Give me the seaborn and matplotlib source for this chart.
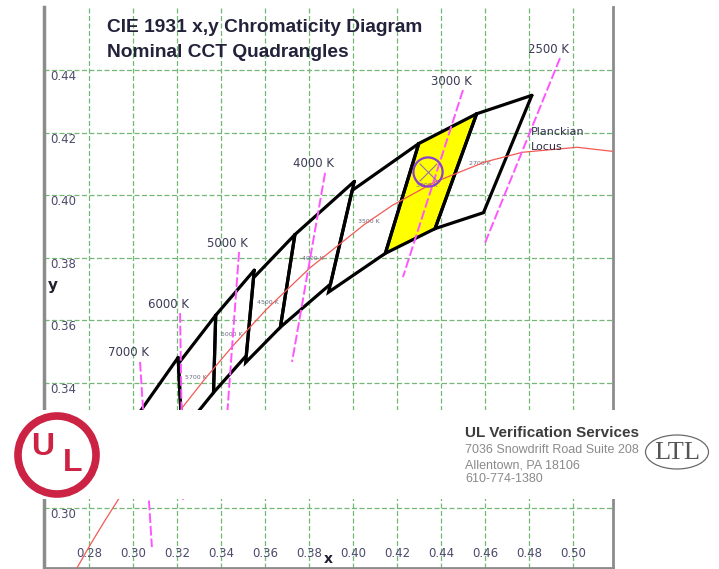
import numpy as np
import pandas as pd
import matplotlib
matplotlib.use('Agg')
import matplotlib.pyplot as plt
from matplotlib.patches import Circle, Ellipse
import seaborn as sns

# nominal CCT quadrangles (ANSI C78.377), corners: TR, TL, BL, BR
quad_names = ['2700 K', '3000 K', '3500 K', '4000 K', '4500 K', '5000 K', '5700 K', '6500 K']
quad_x = [[0.4813, 0.4562, 0.4373, 0.4593],
          [0.4562, 0.4299, 0.4147, 0.4373],
          [0.4299, 0.3996, 0.3889, 0.4147],
          [0.4006, 0.3736, 0.3670, 0.3898],
          [0.3736, 0.3548, 0.3512, 0.3670],
          [0.3551, 0.3376, 0.3366, 0.3515],
          [0.3376, 0.3207, 0.3222, 0.3366],
          [0.3205, 0.3028, 0.3068, 0.3221]]
quad_y = [[0.4319, 0.4260, 0.3893, 0.3944],
          [0.4260, 0.4165, 0.3814, 0.3893],
          [0.4165, 0.4015, 0.3690, 0.3814],
          [0.4044, 0.3874, 0.3578, 0.3716],
          [0.3874, 0.3736, 0.3465, 0.3578],
          [0.3760, 0.3616, 0.3369, 0.3487],
          [0.3616, 0.3462, 0.3243, 0.3369],
          [0.3481, 0.3304, 0.3113, 0.3261]]
centre_x = [0.4578, 0.4338, 0.4073, 0.3818, 0.3611, 0.3447, 0.3287, 0.3123]
centre_y = [0.4101, 0.4030, 0.3917, 0.3797, 0.3658, 0.3553, 0.3417, 0.3282]
highlight = '3000 K'

# planckian locus
locus_x = [0.5267, 0.5018, 0.4770, 0.4599, 0.4369, 0.4178, 0.4053, 0.3805, 0.3608,
           0.3451, 0.3325, 0.3221, 0.3135, 0.3064, 0.2952, 0.2869, 0.2807, 0.2719]
locus_y = [0.4133, 0.4153, 0.4137, 0.4106, 0.4041, 0.3967, 0.3907, 0.3768, 0.3636,
           0.3516, 0.3411, 0.3318, 0.3237, 0.3166, 0.3048, 0.2956, 0.2884, 0.2776]

# isotemperature lines (top end, bottom end)
iso_names = ['2500 K', '3000 K', '4000 K', '5000 K', '6000 K', '7000 K']
iso_x_top = [0.4941, 0.4500, 0.3873, 0.3482, 0.3214, 0.3032]
iso_y_top = [0.4438, 0.4336, 0.4071, 0.3818, 0.3623, 0.3467]
iso_x_bot = [0.4600, 0.4227, 0.3723, 0.3423, 0.3227, 0.3086]
iso_y_bot = [0.3847, 0.3738, 0.3467, 0.3249, 0.3019, 0.2875]

# measured sample
sample_x = [0.4341]
sample_y = [0.4074]

x_ticks = [0.28, 0.30, 0.32, 0.34, 0.36, 0.38, 0.40, 0.42, 0.44, 0.46, 0.48, 0.50]
y_ticks = [0.30, 0.32, 0.34, 0.36, 0.38, 0.40, 0.42, 0.44]
y_labels = [0.30, 0.34, 0.36, 0.38, 0.40, 0.42, 0.44]  # 0.32 sits under the banner

sns.set_style('white')
plt.rcParams['font.family'] = ['DejaVu Sans']

W, H = 719, 569
fig = plt.figure(figsize=(W / 100, H / 100), dpi=100)
ax = fig.add_axes([44 / W, 1 - 568 / H, 569 / W, 561 / H])
ax.set_xlim(0.25955, 0.51818)
ax.set_ylim(0.28082, 0.46014)

ax.set_xticks(x_ticks)
ax.set_yticks(y_ticks)
ax.tick_params(length=0, labelbottom=False, labelleft=False)
ax.grid(True, color='#74b874', linestyle=(0, (4, 2)), linewidth=0.9)
ax.set_axisbelow(True)
ax.set_xlabel('')
ax.set_ylabel('')
ax.spines['top'].set_visible(False)
for s in ['left', 'right', 'bottom']:
    ax.spines[s].set_color('#8c8c8c')
ax.spines['left'].set_linewidth(2.5)
ax.spines['right'].set_linewidth(2)
ax.spines['bottom'].set_linewidth(2)

# quadrangles
for name, qx, qy in zip(quad_names, quad_x, quad_y):
    if name == highlight:
        ax.fill(qx, qy, facecolor='#ffff00', edgecolor='none', zorder=2)
    ax.plot(qx + qx[:1], qy + qy[:1], color='black', lw=2.3, zorder=3,
            solid_joinstyle='miter')
for name, cx, cy in zip(quad_names, centre_x, centre_y):
    ax.text(cx, cy, name, fontsize=4.5, color='#6a6a80', ha='center', va='center', zorder=4)

# planckian locus
sns.lineplot(x=locus_x, y=locus_y, sort=False, estimator=None, color='#f25a55',
             lw=0.9, ax=ax, zorder=4)
ax.text(0.4809, 0.4179, 'Planckian\nLocus', fontsize=8, color='#30304a',
        ha='left', va='center', linespacing=1.6, zorder=5)

# isotemperature lines
iso_df = pd.DataFrame({
    'cct': iso_names * 2,
    'x': iso_x_top + iso_x_bot,
    'y': iso_y_top + iso_y_bot,
})
sns.lineplot(data=iso_df, x='x', y='y', units='cct', estimator=None, sort=False,
             color='#ff55ff', lw=1.4, linestyle=(0, (5, 1.5)), ax=ax, zorder=5)
for name, tx, ty in zip(iso_names, iso_x_top, iso_y_top):
    ax.annotate(name, (tx, ty), xytext=(-12, 9), textcoords='offset pixels',
                fontsize=8.5, color='#3a3a55', ha='center', va='center', zorder=6)

# sample point
sns.scatterplot(x=sample_x, y=sample_y, marker='o', s=440, facecolors='none',
                edgecolor='#8a3fd0', linewidth=1.6, ax=ax, zorder=7)
sns.scatterplot(x=sample_x, y=sample_y, marker='x', s=160, color='#9a70b0',
                linewidth=0.8, ax=ax, zorder=7)

# tick labels drawn inside the frame
for y in y_labels:
    ax.text(0.0105, y, f'{y:.2f}', transform=ax.get_yaxis_transform(), fontsize=8.5,
            color='#4a4a6a', ha='left', va='top')
for x in x_ticks:
    ax.text(x, 0.0267, f'{x:.2f}', transform=ax.get_xaxis_transform(), fontsize=8.5,
            color='#4a4a6a', ha='center', va='center')
ax.text(0.0158, 0.504, 'y', transform=ax.transAxes, fontsize=11, fontweight='bold',
        color='#202030', ha='center', va='center')
ax.text(0.499, 0.016, 'x', transform=ax.transAxes, fontsize=10, fontweight='bold',
        color='#202030', ha='center', va='center')

ax.text(0.1107, 0.9643, 'CIE 1931 x,y Chromaticity Diagram', transform=ax.transAxes,
        fontsize=13.8, fontweight='bold', color='#22223a', ha='left', va='center',
        family='Liberation Sans')
ax.text(0.1107, 0.9195, 'Nominal CCT Quadrangles', transform=ax.transAxes,
        fontsize=13.8, fontweight='bold', color='#22223a', ha='left', va='center',
        family='Liberation Sans')

# banner with logos
bx = fig.add_axes([0, 1 - 499 / H, 1, 89 / H])
bx.set_xlim(0, W)
bx.set_ylim(499, 410)
bx.set_facecolor('white')
for s in bx.spines.values():
    s.set_visible(False)
bx.set_xticks([])
bx.set_yticks([])
ul_red = '#cc2244'
bx.add_patch(Circle((57, 455), 39, fill=False, edgecolor=ul_red, lw=5.5))
bx.text(43, 447, 'U', fontsize=23, fontweight='bold', color=ul_red, ha='center',
        va='center', family='Liberation Sans')
bx.text(73, 463, 'L', fontsize=23, fontweight='bold', color=ul_red, ha='center',
        va='center', family='Liberation Sans')
bx.text(465, 433, 'UL Verification Services', fontsize=11, fontweight='bold',
        color='#3c3c3c', ha='left', va='center', family='Liberation Sans')
for yy, line in zip([450, 465, 479], ['7036 Snowdrift Road Suite 208',
                                      'Allentown, PA 18106', '610-774-1380']):
    bx.text(465, yy, line, fontsize=9, color='#8a8a8a', ha='left', va='center',
            family='Liberation Sans')
bx.add_patch(Ellipse((677, 452), 63, 34, fill=False, edgecolor='#6a6a6a', lw=0.9))
bx.text(677, 453, 'LTL', fontsize=19, family='Liberation Serif', color='#555555',
        ha='center', va='center')

fig.savefig('out.png', dpi=100)
